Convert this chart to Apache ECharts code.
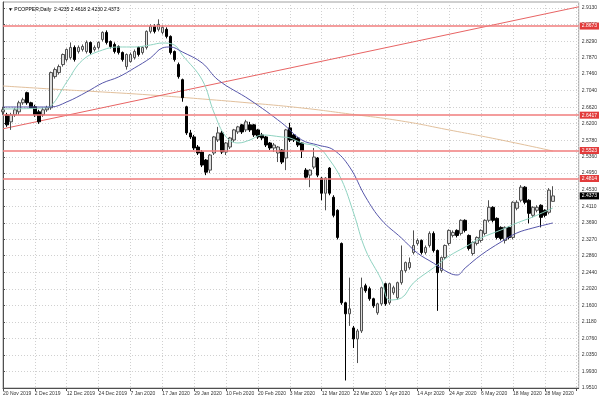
<!DOCTYPE html>
<html><head><meta charset="utf-8">
<script src="https://cdn.jsdelivr.net/npm/echarts@6/dist/echarts.min.js"></script>
<style>html,body{margin:0;padding:0;background:#fff}#c{width:600px;height:400px}</style>
</head><body><div id="c"></div>
<script>
const titleText = '\u25BC PCOPPER,Daily  2.4235 2.4618 2.4230 2.4373';
const xTickStep = 8;
const xTickLabels = ['20 Nov 2019','2 Dec 2019','12 Dec 2019','24 Dec 2019','7 Jan 2020','17 Jan 2020','29 Jan 2020','10 Feb 2020','20 Feb 2020','3 Mar 2020','12 Mar 2020','22 Mar 2020','1 Apr 2020','14 Apr 2020','24 Apr 2020','6 May 2020','18 May 2020','28 May 2020'];
const priceTickLabels = ['1.9510','1.9930','2.0350','2.0760','2.1180','2.1600','2.2020','2.2440','2.2860','2.3270','2.3690','2.4110','2.4530','2.4950','2.5360','2.5780','2.6200','2.6620','2.7040','2.7460','2.7870','2.8290','2.8710','2.9130'];
const yMin = 1.9510, yMax = 2.9282;

const opens = [2.6502,2.6426,2.6248,2.6426,2.6502,2.6731,2.6986,2.6731,2.6629,2.6502,2.6426,2.6553,2.6604,2.7393,2.7495,2.7698,2.7825,2.7876,2.8131,2.8029,2.8080,2.8029,2.8258,2.8080,2.8131,2.8334,2.8512,2.8283,2.8207,2.8156,2.8003,2.7647,2.7774,2.7876,2.8131,2.8003,2.8131,2.8538,2.8665,2.8589,2.8512,2.8589,2.8411,2.8029,2.7698,2.7316,2.6629,2.5968,2.5866,2.5611,2.5484,2.5281,2.5026,2.5459,2.5789,2.5968,2.5484,2.5611,2.5789,2.5993,2.6172,2.6044,2.6172,2.6172,2.6044,2.5917,2.5866,2.5713,2.5586,2.5459,2.5535,2.5332,2.6095,2.5917,2.5840,2.5713,2.5026,2.4899,2.5103,2.5332,2.4823,2.4441,2.5077,2.4339,2.4009,2.3169,2.1668,2.1388,2.1031,2.0752,2.0955,2.2100,2.2024,2.1770,2.1414,2.1642,2.2151,2.1668,2.1922,2.1795,2.2177,2.2482,2.2558,2.2940,2.3169,2.3245,2.2940,2.3118,2.3423,2.2991,2.2482,2.2813,2.3169,2.3372,2.3500,2.3423,2.3755,2.3372,2.2914,2.3169,2.3245,2.3423,2.3755,2.4085,2.3805,2.3576,2.3245,2.3576,2.3322,2.4060,2.4263,2.4594,2.4263,2.3881,2.4009,2.4136,2.4009,2.3958,2.4235];
const closes = [2.6553,2.6172,2.6426,2.6553,2.6731,2.6807,2.6731,2.6604,2.6426,2.6248,2.6553,2.6604,2.7495,2.7571,2.7647,2.7953,2.8080,2.8131,2.7825,2.8131,2.8156,2.8258,2.8003,2.8131,2.8258,2.8512,2.8258,2.8156,2.8029,2.8003,2.7825,2.7953,2.7953,2.8029,2.7953,2.8131,2.8538,2.8665,2.8538,2.8716,2.8640,2.8411,2.8003,2.7825,2.7393,2.6858,2.5968,2.5866,2.5586,2.5459,2.5154,2.4975,2.5408,2.5866,2.5968,2.5484,2.5713,2.5840,2.6044,2.6121,2.5993,2.6248,2.6044,2.5917,2.5866,2.5840,2.5662,2.5586,2.5662,2.5611,2.5230,2.6044,2.5789,2.5789,2.5662,2.5510,2.4848,2.5026,2.5357,2.4899,2.4441,2.4823,2.4441,2.3881,2.3322,2.1668,2.1388,2.1515,2.0752,2.0955,2.2049,2.1973,2.1770,2.1591,2.1642,2.2049,2.1642,2.2151,2.2049,2.2177,2.2482,2.2685,2.2685,2.3118,2.3245,2.2940,2.3067,2.3423,2.2991,2.2431,2.2813,2.3118,2.3500,2.3449,2.3372,2.3755,2.3500,2.3042,2.3194,2.3322,2.3500,2.3755,2.4085,2.3755,2.3322,2.3296,2.3576,2.3322,2.4212,2.4212,2.4594,2.4212,2.3932,2.4085,2.4085,2.3830,2.3881,2.4518,2.4373];
const lows = [2.6426,2.6121,2.6044,2.6375,2.6426,2.6680,2.6680,2.6578,2.6375,2.6197,2.6375,2.6502,2.6553,2.7342,2.7444,2.7647,2.7774,2.7825,2.7774,2.7978,2.8029,2.7978,2.7953,2.8029,2.8080,2.8283,2.8207,2.8105,2.7978,2.7953,2.7774,2.7571,2.7749,2.7825,2.7902,2.7953,2.8080,2.8487,2.8487,2.8538,2.8461,2.8360,2.7953,2.7774,2.7342,2.6757,2.5917,2.5815,2.5535,2.5408,2.5103,2.4899,2.4950,2.5408,2.5738,2.5433,2.5408,2.5560,2.5738,2.5942,2.5942,2.5993,2.5993,2.5866,2.5815,2.5789,2.5611,2.5535,2.5484,2.5230,2.5179,2.5026,2.5738,2.5738,2.5611,2.5332,2.4797,2.4594,2.5052,2.4848,2.4263,2.4009,2.4390,2.3830,2.3271,2.1617,1.9700,2.1082,2.0522,2.0141,2.0904,2.1922,2.1719,2.1540,2.1363,2.1591,2.1591,2.1617,2.1871,2.1744,2.2126,2.2431,2.2507,2.2889,2.3118,2.2889,2.2889,2.3067,2.2940,2.1464,2.2431,2.2762,2.3118,2.3322,2.3322,2.3372,2.3449,2.2991,2.2863,2.3118,2.3194,2.3372,2.3704,2.3704,2.3271,2.3245,2.3169,2.3271,2.3271,2.4009,2.4212,2.4161,2.3678,2.3830,2.3958,2.3576,2.3830,2.3907,2.4230];
const highs = [2.6629,2.6477,2.6477,2.6604,2.6782,2.6858,2.7011,2.6757,2.6680,2.6553,2.6604,2.6655,2.7520,2.7622,2.7698,2.7978,2.8105,2.8258,2.8182,2.8182,2.8207,2.8309,2.8283,2.8182,2.8283,2.8538,2.8563,2.8309,2.8258,2.8182,2.8029,2.7978,2.8003,2.8080,2.8156,2.8156,2.8563,2.8716,2.8716,2.8843,2.8691,2.8640,2.8436,2.8055,2.7749,2.7342,2.6655,2.6044,2.5917,2.5662,2.5535,2.5306,2.5433,2.5891,2.6121,2.6019,2.5738,2.5866,2.6070,2.6146,2.6197,2.6299,2.6248,2.6197,2.6070,2.5968,2.5891,2.5738,2.5713,2.5637,2.5560,2.6070,2.6222,2.5942,2.5866,2.5738,2.5077,2.5052,2.5586,2.5357,2.4848,2.4848,2.5103,2.4390,2.4034,2.3194,2.1693,2.2304,2.1082,2.1006,2.2304,2.2151,2.2075,2.1795,2.1668,2.2075,2.2177,2.2177,2.2100,2.2202,2.3118,2.2711,2.2813,2.3500,2.3296,2.3271,2.3118,2.3474,2.3474,2.3016,2.2838,2.3143,2.3525,2.3500,2.3525,2.3780,2.3780,2.3398,2.3220,2.3347,2.3525,2.3780,2.4263,2.4111,2.3830,2.3602,2.3602,2.3602,2.4238,2.4263,2.4645,2.4620,2.4288,2.4111,2.4136,2.4161,2.4034,2.4570,2.4618];

const maFast = [[0,2.6574],[10,2.6599],[12,2.6650],[16,2.7257],[20,2.7814],[25,2.8067],[29,2.8143],[33,2.8143],[37,2.8194],[40,2.8244],[43,2.8194],[45,2.7941],[50,2.7308],[53,2.6472],[56,2.5865],[59,2.5713],[62,2.5789],[65,2.5916],[70,2.5865],[72,2.5840],[75,2.5713],[79,2.5611],[82,2.5282],[85,2.4776],[88,2.3941],[91,2.3004],[95,2.2244],[97,2.1739],[100,2.1789],[103,2.2169],[108,2.2548],[112,2.2852],[116,2.3080],[120,2.3308],[125,2.3511],[129,2.3688],[133,2.3840],[138,2.4067]];
const maSlow = [[0,2.6624],[12,2.6624],[16,2.6751],[21,2.7004],[25,2.7232],[29,2.7384],[33,2.7612],[37,2.7865],[40,2.8118],[42,2.8143],[45,2.8017],[50,2.7738],[54,2.7308],[62,2.6802],[70,2.6219],[75,2.5789],[79,2.5662],[83,2.5536],[87,2.5105],[91,2.4346],[95,2.3764],[100,2.3308],[104,2.2928],[108,2.2675],[112,2.2422],[114,2.2371],[116,2.2548],[120,2.2878],[125,2.3207],[129,2.3435],[133,2.3561],[138,2.3688]];
const ma200 = [[0,2.7156],[12,2.7080],[25,2.7004],[37,2.6928],[50,2.6827],[62,2.6725],[75,2.6599],[87,2.6447],[100,2.6270],[112,2.6042],[125,2.5789],[138,2.5510]];
const trendLine = [[0,2.6072],[144.5,2.9160]];
const levels = ['2.8673', '2.6417', '2.5523', '2.4814'];
const lastClose = '2.4373';

const priceTicks = priceTickLabels.map(Number);
const font = 'Liberation Sans';
const chart = echarts.init(document.getElementById('c'), null, { renderer: 'canvas' });
chart.setOption({
  animation: false,
  backgroundColor: '#ffffff',
  textStyle: { fontFamily: font },
  title: { text: titleText, left: 3, top: 2, textStyle: { fontSize: 5, fontWeight: 'normal', color: '#000', fontFamily: font } },
  grid: { left: 1, right: 21, top: 2, bottom: 12, show: true, borderColor: '#a0a0a0', borderWidth: 1, backgroundColor: 'transparent' },
  xAxis: {
    type: 'value', min: 0, max: 144.5, interval: xTickStep,
    axisLine: { show: true, onZero: false, lineStyle: { color: '#505050' } },
    axisTick: { show: true, length: 3, lineStyle: { color: '#505050' } },
    axisLabel: { fontSize: 5, color: '#333', align: 'left', margin: 3, fontFamily: font, showMaxLabel: false,
      formatter: v => { const k = v / xTickStep; return (Number.isInteger(k) && k < xTickLabels.length) ? xTickLabels[k] : ''; } },
    splitLine: { show: true, lineStyle: { color: '#d0d0d0', type: [1, 2] } }
  },
  yAxis: {
    type: 'value', position: 'right', min: yMin, max: yMax,
    axisLine: { show: true, lineStyle: { color: '#505050' } },
    axisTick: { show: true, length: 2, customValues: priceTicks, lineStyle: { color: '#505050' } },
    axisLabel: { fontSize: 5, color: '#333', margin: 3, fontFamily: font, customValues: priceTicks, formatter: v => v.toFixed(4) },
    splitLine: { show: true, lineStyle: { color: '#d0d0d0', type: [1, 2] } }
  },
  series: [
    { type: 'line', data: ma200, smooth: true, showSymbol: false, symbol: 'none', lineStyle: { color: '#e2c09c', width: 1 }, z: 1 },
    { type: 'line', data: trendLine, showSymbol: false, symbol: 'none', lineStyle: { color: '#e86464', width: 1 }, z: 1 },
    {
      type: 'candlestick', barWidth: 3,
      data: opens.map((o, i) => [i, o, closes[i], lows[i], highs[i]]),
      encode: { x: 0, y: [1, 2, 3, 4] },
      itemStyle: { color: '#dedede', color0: '#000000', borderColor: '#505050', borderColor0: '#000000', borderWidth: 1 },
      z: 3,
      markLine: {
        symbol: ['none', 'none'], silent: true, animation: false, precision: 4,
        lineStyle: { color: '#f07c7c', width: 1.5, type: 'solid' },
        label: { show: true, position: 'end', distance: 1, formatter: p => p.name, fontSize: 5, fontFamily: font, color: '#fff', backgroundColor: '#e23b3b', padding: [1, 2, 1, 2] },
        data: levels.map(s => ({ name: s, yAxis: Number(s) })).concat([{ name: lastClose, yAxis: Number(lastClose), lineStyle: { color: 'rgba(0,0,0,0)', width: 0 }, label: { backgroundColor: '#000000', color: '#fff' } }])
      }
    },
    { type: 'line', data: maFast, smooth: 0.4, showSymbol: false, symbol: 'none', lineStyle: { color: '#8fd3c1', width: 1 }, z: 4 },
    { type: 'line', data: maSlow, smooth: 0.4, showSymbol: false, symbol: 'none', lineStyle: { color: '#5656aa', width: 1 }, z: 4 }
  ]
});
</script></body></html>
